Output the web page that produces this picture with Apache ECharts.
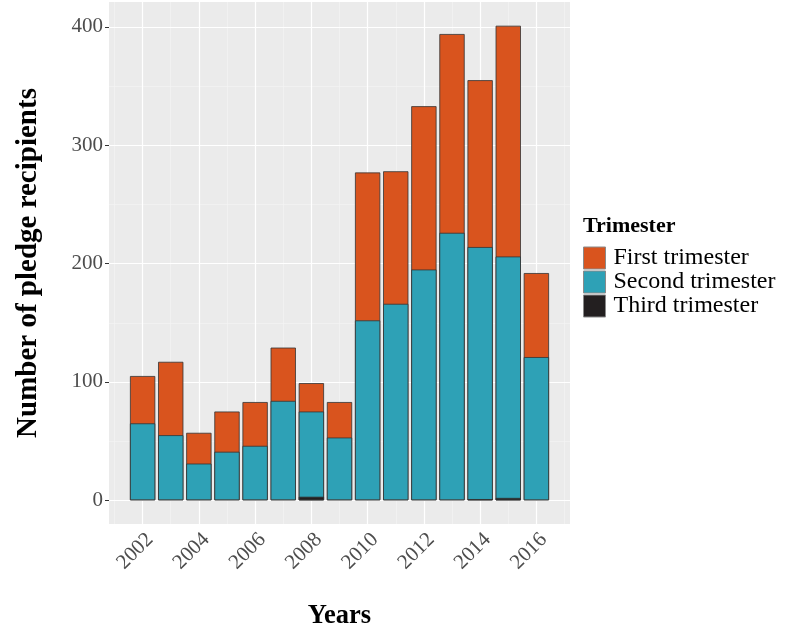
<!DOCTYPE html>
<html>
<head>
<meta charset="utf-8">
<script src="https://cdn.jsdelivr.net/npm/echarts@6/dist/echarts.min.js"></script>
<style>html,body{margin:0;padding:0;background:#fff;}#c{width:785px;height:630px;}</style>
</head>
<body>
<div id="c"></div>
<script>
const years = [2002,2003,2004,2005,2006,2007,2008,2009,2010,2011,2012,2013,2014,2015,2016];
const firstTrimester  = [40,62,26,34,37,45,24,30,125,112,138,168,141,195,71];
const secondTrimester = [65,55,31,41,46,84,72,53,152,166,195,226,213,204,121];
const thirdTrimester  = [0,0,0,0,0,0,3,0,0,0,0,0,1,2,0];
const yTicks = [0,100,200,300,400];
const yMinor = [50,150,250,350];
const xTicks = [2002,2004,2006,2008,2010,2012,2014,2016];
const xMinor = [2001,2003,2005,2007,2009,2011,2013,2015,2017];

const FONT = '"Liberation Serif", "DejaVu Serif", serif';

// stacked tops (third at bottom, then second, then first), drawn as overlapping bars
const topThird  = years.map((y,i) => [y, thirdTrimester[i] === 0 ? '-' : thirdTrimester[i]]);
const topSecond = years.map((y,i) => [y, thirdTrimester[i] + secondTrimester[i]]);
const topFirst  = years.map((y,i) => [y, thirdTrimester[i] + secondTrimester[i] + firstTrimester[i]]);

const solid = (color, width) => ({color: color, width: width, type: 'solid'});
const gridLines = [].concat(
  yMinor.map(v => ({yAxis: v, lineStyle: solid('#F5F5F5', 0.6)})),
  xMinor.map(v => ({xAxis: v, lineStyle: solid('#F5F5F5', 0.6)})),
  yTicks.map(v => ({yAxis: v, lineStyle: solid('#FFFFFF', 1.2)})),
  xTicks.map(v => ({xAxis: v, lineStyle: solid('#FFFFFF', 1.2)}))
);

const bar = (name, data, color) => ({
  type: 'bar', name: name, data: data, barWidth: 25.3, barGap: '-100%', z: 3,
  itemStyle: {color: color, borderColor: '#333333', borderWidth: 0.8}
});

const chart = echarts.init(document.getElementById('c'), null, {renderer: 'canvas'});
chart.setOption({
  animation: false,
  textStyle: {fontFamily: FONT},
  grid: {left: 109, top: 2, width: 461, height: 522, show: true, backgroundColor: '#EBEBEB', borderWidth: 0,
         containLabel: false, outerBoundsMode: 'none'},
  title: {text: 'Trimester', left: 583, top: 215, padding: 0,
          textStyle: {fontFamily: FONT, fontSize: 22, fontWeight: 'bold', color: '#000'}},
  legend: {
    orient: 'vertical', left: 583, top: 246, padding: 0, itemWidth: 22, itemHeight: 22, itemGap: 0,
    icon: 'rect',
    data: ['First trimester','Second trimester','Third trimester'],
    itemStyle: {borderColor: '#8a8a8a', borderWidth: 1},
    textStyle: {fontFamily: FONT, fontSize: 24, color: '#000', padding: [0,0,0,3]}
  },
  xAxis: {
    type: 'value', min: 2000.805, max: 2017.195,
    splitLine: {show: false}, axisLine: {show: false},
    axisTick: {show: true, length: 4, lineStyle: {color: '#333'}, customValues: xTicks},
    axisLabel: {customValues: xTicks, rotate: 45, fontFamily: FONT, fontSize: 21, color: '#4D4D4D', margin: 5,
                verticalAlign: 'top', formatter: v => String(v)},
    name: 'Years', nameLocation: 'middle', nameGap: 79,
    nameTextStyle: {fontFamily: FONT, fontSize: 26.5, fontWeight: 'bold', color: '#000'}
  },
  yAxis: {
    type: 'value', min: -20.05, max: 421.05,
    splitLine: {show: false}, axisLine: {show: false},
    axisTick: {show: true, length: 4, lineStyle: {color: '#333'}, customValues: yTicks},
    axisLabel: {customValues: yTicks, fontFamily: FONT, fontSize: 21, color: '#4D4D4D', margin: 6},
    name: 'Number of pledge recipients', nameLocation: 'middle', nameGap: 66, nameRotate: 90,
    nameTextStyle: {fontFamily: FONT, fontSize: 29, fontWeight: 'bold', color: '#000'}
  },
  series: [
    {type: 'line', data: [], z: 1, silent: true,
     markLine: {silent: true, symbol: ['none','none'], z: 1, label: {show: false}, animation: false, data: gridLines}},
    bar('First trimester', topFirst, '#D9541E'),
    bar('Second trimester', topSecond, '#2EA1B6'),
    bar('Third trimester', topThird, '#231F20')
  ]
});
</script>
</body>
</html>
